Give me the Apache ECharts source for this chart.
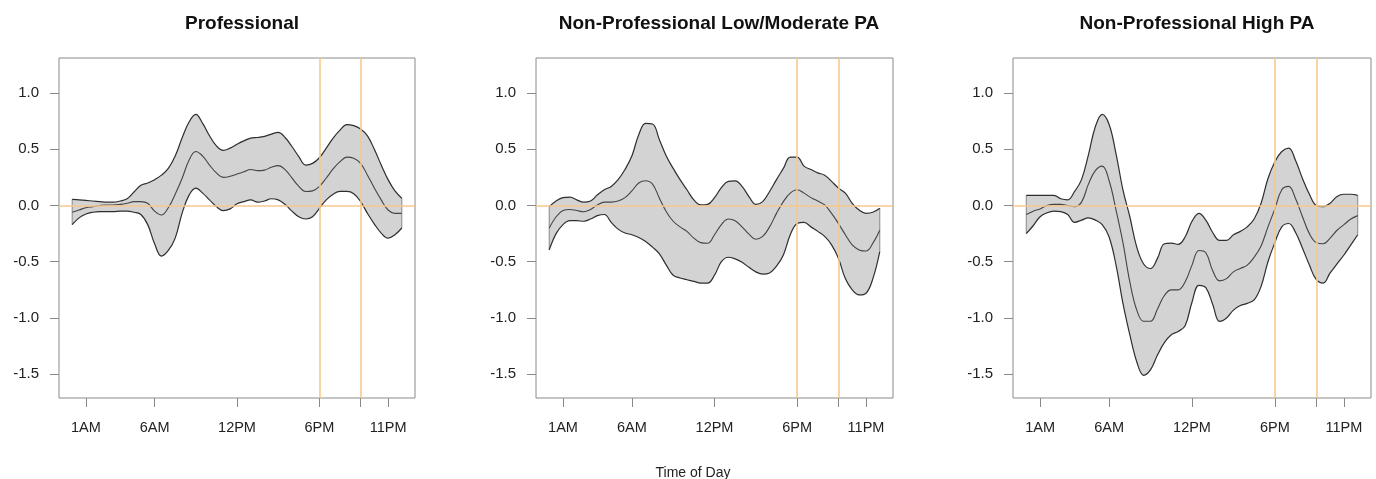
<!DOCTYPE html>
<html lang="en">
<head>
<meta charset="utf-8">
<script src="https://cdn.jsdelivr.net/npm/echarts@6/dist/echarts.min.js"></script>
<style>
  * { margin: 0; padding: 0; }
  body { background: #fff; }
</style>
</head>
<body>
<div id="main" style="width:1376px;height:479px;"></div>
<script>
// hour of day, half-hour steps
var hours = [0, 0.5, 1, 1.5, 2, 2.5, 3, 3.5, 4, 4.5, 5, 5.5, 6, 6.5, 7, 7.5, 8, 8.5, 9, 9.5,
  10, 10.5, 11, 11.5, 12, 12.5, 13, 13.5, 14, 14.5, 15, 15.5, 16, 16.5, 17, 17.5, 18, 18.5, 19, 19.5,
  20, 20.5, 21, 21.5, 22, 22.5, 23, 23.5, 24];

var tickHours = [1, 6, 12, 18, 21, 23];
var labelHours = [1, 6, 12, 18, 23];
var labelNames = ['1AM', '6AM', '12PM', '6PM', '11PM'];
var yTicks = [-1.5, -1.0, -0.5, 0, 0.5, 1.0];
var refHours = [18, 21];

var titles = ['Professional', 'Non-Professional Low/Moderate PA', 'Non-Professional High PA'];

// Professional
var upper1 = [0.055, 0.05, 0.045, 0.04, 0.035, 0.03, 0.03, 0.04, 0.06, 0.12, 0.18, 0.20, 0.23, 0.27, 0.33, 0.44, 0.60, 0.74, 0.81, 0.73,
  0.62, 0.53, 0.49, 0.51, 0.545, 0.575, 0.60, 0.605, 0.615, 0.635, 0.65, 0.605, 0.525, 0.435, 0.36, 0.375, 0.425, 0.51, 0.60, 0.67,
  0.72, 0.71, 0.68, 0.62, 0.50, 0.36, 0.23, 0.13, 0.065];
var mean1 = [-0.06, -0.04, -0.02, -0.01, 0.0, 0.005, 0.005, 0.01, 0.02, 0.035, 0.035, 0.02, -0.05, -0.085, -0.02, 0.10, 0.24, 0.40, 0.48, 0.44,
  0.36, 0.29, 0.25, 0.26, 0.28, 0.30, 0.32, 0.31, 0.315, 0.34, 0.355, 0.32, 0.245, 0.17, 0.125, 0.13, 0.17, 0.245, 0.325, 0.39,
  0.43, 0.42, 0.375, 0.27, 0.155, 0.05, -0.04, -0.07, -0.07];
var lower1 = [-0.17, -0.11, -0.075, -0.06, -0.055, -0.055, -0.055, -0.05, -0.05, -0.06, -0.08, -0.17, -0.34, -0.45, -0.40, -0.29, -0.07, 0.09, 0.155, 0.11,
  0.05, -0.01, -0.045, -0.03, 0.015, 0.035, 0.05, 0.03, 0.04, 0.06, 0.05, 0.01, -0.05, -0.10, -0.12, -0.10, -0.025, 0.05, 0.10, 0.125,
  0.125, 0.105, 0.035, -0.07, -0.165, -0.245, -0.29, -0.26, -0.20];

// Non-Professional Low/Moderate PA
var upper2 = [-0.01, 0.04, 0.07, 0.075, 0.05, 0.03, 0.04, 0.095, 0.14, 0.17, 0.23, 0.32, 0.44, 0.63, 0.73, 0.725, 0.585, 0.44, 0.33, 0.23,
  0.14, 0.05, 0.005, 0.01, 0.07, 0.16, 0.215, 0.22, 0.17, 0.08, 0.01, 0.035, 0.125, 0.23, 0.33, 0.43, 0.43, 0.35, 0.32, 0.29,
  0.27, 0.215, 0.155, 0.11, 0.02, -0.04, -0.07, -0.06, -0.025];
var mean2 = [-0.20, -0.10, -0.045, -0.035, -0.045, -0.055, -0.035, 0.005, 0.03, 0.03, 0.04, 0.07, 0.13, 0.20, 0.22, 0.19, 0.065, -0.055, -0.14, -0.19,
  -0.23, -0.29, -0.33, -0.335, -0.26, -0.17, -0.12, -0.135, -0.19, -0.255, -0.30, -0.275, -0.19, -0.07, 0.035, 0.11, 0.14, 0.11, 0.07, 0.04,
  0.005, -0.07, -0.16, -0.26, -0.35, -0.395, -0.405, -0.335, -0.22];
var lower2 = [-0.395, -0.25, -0.17, -0.135, -0.135, -0.14, -0.12, -0.09, -0.08, -0.15, -0.21, -0.245, -0.26, -0.285, -0.32, -0.37, -0.43, -0.53, -0.62, -0.645,
  -0.66, -0.675, -0.69, -0.69, -0.62, -0.50, -0.46, -0.475, -0.505, -0.55, -0.59, -0.61, -0.60, -0.54, -0.44, -0.26, -0.16, -0.15, -0.19, -0.23,
  -0.275, -0.35, -0.47, -0.65, -0.75, -0.795, -0.78, -0.65, -0.41];

// Non-Professional High PA
var upper3 = [0.09, 0.09, 0.09, 0.09, 0.09, 0.06, 0.05, 0.125, 0.23, 0.45, 0.70, 0.81, 0.72, 0.46, 0.14, -0.10, -0.37, -0.52, -0.56, -0.47,
  -0.34, -0.335, -0.345, -0.28, -0.14, -0.07, -0.13, -0.24, -0.31, -0.31, -0.26, -0.23, -0.19, -0.12, 0.02, 0.24, 0.39, 0.48, 0.51, 0.40,
  0.24, 0.10, 0.0, -0.01, 0.02, 0.08, 0.10, 0.10, 0.09];
var mean3 = [-0.08, -0.05, -0.03, 0.0, 0.01, 0.01, 0.0, -0.01, 0.03, 0.19, 0.31, 0.35, 0.22, -0.04, -0.33, -0.68, -0.93, -1.03, -1.03, -0.92,
  -0.80, -0.75, -0.75, -0.68, -0.53, -0.40, -0.42, -0.58, -0.67, -0.65, -0.59, -0.56, -0.53, -0.46, -0.36, -0.19, -0.03, 0.14, 0.17, 0.06,
  -0.10, -0.25, -0.33, -0.34, -0.29, -0.22, -0.17, -0.12, -0.09];
var lower3 = [-0.25, -0.18, -0.10, -0.065, -0.05, -0.055, -0.08, -0.15, -0.13, -0.11, -0.13, -0.17, -0.28, -0.53, -0.87, -1.15, -1.39, -1.51, -1.46, -1.33,
  -1.22, -1.15, -1.12, -1.07, -0.86, -0.71, -0.73, -0.88, -1.03, -1.00, -0.93, -0.89, -0.87, -0.84, -0.72, -0.50, -0.33, -0.19, -0.16, -0.24,
  -0.38, -0.53, -0.66, -0.69, -0.60, -0.52, -0.44, -0.35, -0.26];

var uppers = [upper1, upper2, upper3];
var means = [mean1, mean2, mean3];
var lowers = [lower1, lower2, lower3];

var FONT = '"Liberation Sans", Arial, Helvetica, sans-serif';
var gridLefts = [59, 536, 1013];
var gridWidths = [356, 357, 358];
var titleCenters = [237, 714, 1192];
var X_MIN = -0.96, X_MAX = 24.96, Y_MIN = -1.712, Y_MAX = 1.312;

function pairs(vals) {
  return hours.map(function (h, i) { return [h, vals[i]]; });
}

var myChart = echarts.init(document.getElementById('main'));

var option = {
  animation: false,
  backgroundColor: '#fff',
  title: [],
  grid: [],
  xAxis: [],
  yAxis: [],
  series: []
};

for (var p = 0; p < 3; p++) {
  var g = p * 2;      // visible grid (box, ticks, lines)
  var b = p * 2 + 1;  // hidden grid for the stacked band (category x over the data span)
  var pxPerHour = gridWidths[p] / (X_MAX - X_MIN);
  var last = hours.length - 1;

  option.title.push({
    text: titles[p],
    left: titleCenters[p],
    top: 9,
    textAlign: 'center',
    textStyle: { fontFamily: FONT, fontSize: 19, fontWeight: 'bold', color: '#111' }
  });

  option.grid.push({
    left: gridLefts[p], top: 58, width: gridWidths[p], height: 340,
    show: true, borderColor: '#8a8a8a', borderWidth: 1, backgroundColor: 'transparent'
  });
  option.grid.push({
    left: gridLefts[p] + (0 - X_MIN) * pxPerHour, top: 58,
    width: 24 * pxPerHour, height: 340, show: false
  });

  option.xAxis.push({
    type: 'value', gridIndex: g, min: X_MIN, max: X_MAX,
    axisLine: { show: false, onZero: false },
    splitLine: { show: false },
    axisTick: { show: true, customValues: tickHours, length: 9, lineStyle: { color: '#8a8a8a' } },
    axisLabel: {
      customValues: labelHours, margin: 22,
      fontFamily: FONT, fontSize: 14.5, color: '#222',
      formatter: function (v) { return labelNames[labelHours.indexOf(v)]; }
    }
  });
  option.xAxis.push({
    type: 'category', gridIndex: b, data: hours, boundaryGap: false, show: false
  });

  option.yAxis.push({
    type: 'value', gridIndex: g, min: Y_MIN, max: Y_MAX,
    axisLine: { show: false, onZero: false },
    splitLine: { show: false },
    axisTick: { show: true, customValues: yTicks, length: 9, lineStyle: { color: '#8a8a8a' } },
    axisLabel: {
      customValues: yTicks, margin: 20,
      fontFamily: FONT, fontSize: 15, color: '#222',
      formatter: function (v) { return v.toFixed(1); }
    }
  });
  option.yAxis.push({
    type: 'value', gridIndex: b, min: Y_MIN, max: Y_MAX, show: false
  });

  var diff = uppers[p].map(function (u, i) { return +(u - lowers[p][i]).toFixed(4); });
  var stackName = 'band' + p;

  option.series.push({
    type: 'line', xAxisIndex: b, yAxisIndex: b, stack: stackName, stackStrategy: 'all',
    data: lowers[p], smooth: 0.4, symbol: 'none', silent: true,
    lineStyle: { opacity: 0 }, z: 1
  });
  option.series.push({
    type: 'line', xAxisIndex: b, yAxisIndex: b, stack: stackName, stackStrategy: 'all',
    data: diff, smooth: 0.4, symbol: 'none', silent: true,
    lineStyle: { opacity: 0 }, areaStyle: { color: '#d3d3d3', opacity: 1 }, z: 1
  });
  // band ends (polygon closing edges)
  [0, last].forEach(function (k) {
    option.series.push({
      type: 'line', xAxisIndex: g, yAxisIndex: g, symbol: 'none', silent: true, z: 2,
      data: [[hours[k], lowers[p][k]], [hours[k], uppers[p][k]]],
      lineStyle: { color: '#888', width: 1 }
    });
  });
  // reference lines: 0, 6PM, 9PM
  option.series.push({
    type: 'line', xAxisIndex: g, yAxisIndex: g, data: [], silent: true, z: 2,
    markLine: {
      silent: true, symbol: ['none', 'none'], label: { show: false },
      lineStyle: { color: '#f7c98c', width: 1.6, type: 'solid' },
      data: [{ yAxis: 0 }].concat(refHours.map(function (h) { return { xAxis: h }; }))
    }
  });
  [uppers[p], lowers[p]].forEach(function (arr) {
    option.series.push({
      type: 'line', xAxisIndex: g, yAxisIndex: g, data: pairs(arr), smooth: 0.4,
      symbol: 'none', silent: true, z: 3,
      lineStyle: { color: '#2e2e2e', width: 1.2 }
    });
  });
  option.series.push({
    type: 'line', xAxisIndex: g, yAxisIndex: g, data: pairs(means[p]), smooth: 0.4,
    symbol: 'none', silent: true, z: 3,
    lineStyle: { color: '#444', width: 1.1 }
  });
}

option.title.push({
  text: 'Time of Day',
  left: 688, top: 461, textAlign: 'center',
  textStyle: { fontFamily: FONT, fontSize: 14, fontWeight: 'normal', color: '#222' }
});

myChart.setOption(option);
</script>
</body>
</html>
